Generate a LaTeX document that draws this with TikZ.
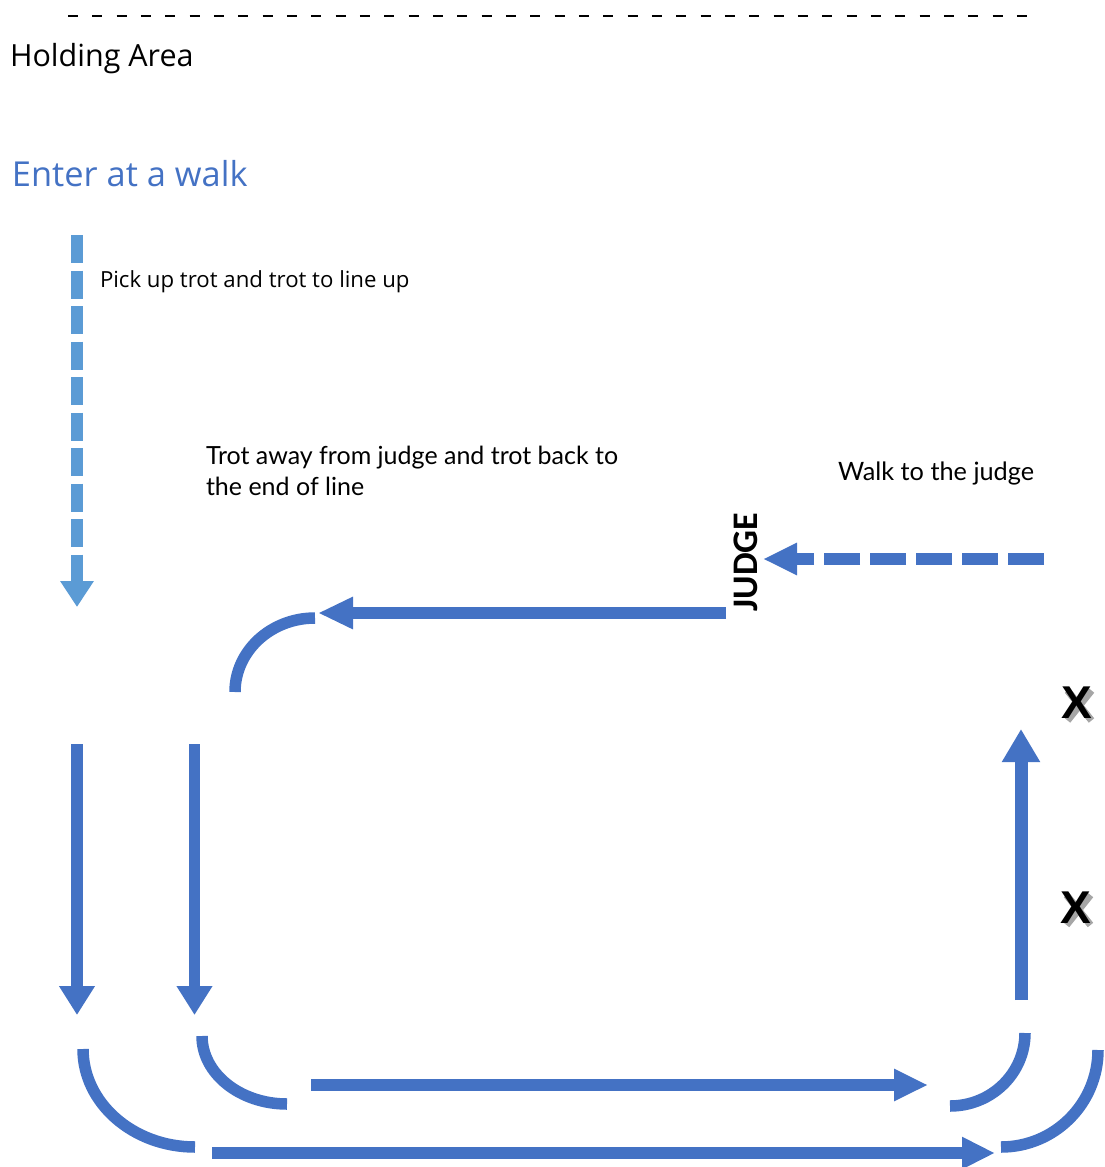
\documentclass[tikz,border=0pt]{standalone}
\usepackage{fontspec}
\setmainfont{Carlito}
\newfontfamily\headfont{Open Sans}
\newfontfamily\latofont{Lato}
\newfontfamily\xfont{Liberation Sans}
\usetikzlibrary{arrows.meta}
\definecolor{mblue}{HTML}{4472C4}
\definecolor{lblue}{HTML}{5B9BD5}
\begin{document}
\begin{tikzpicture}[x=1pt,y=-1pt,
  txt/.style={anchor=base west,inner sep=0pt,outer sep=0pt},
  flow/.style={draw=mblue,line width=11.5pt},
  xmark/.style={inner sep=0pt,font=\xfont\bfseries\fontsize{46}{46}\selectfont},
  xshadow/.style={draw=black!35,line width=7pt},
  ]
\useasboundingbox (0,0) rectangle (1104,1167);
% top dashed boundary
\coordinate (topL) at (68,16);
\coordinate (topR) at (1027,16);
\draw[black,line width=2.2pt,dash pattern=on 10pt off 14.33pt] (topL) -- (topR);
% texts
\node[txt,font=\headfont\fontsize{30.5}{34}\selectfont] (hold) at (10,66) {Holding Area};
\node[txt,font=\headfont\fontsize{34.4}{38}\selectfont,text=mblue] (enter) at (12,186) {Enter at a walk};
\node[txt,font=\headfont\fontsize{22.2}{26}\selectfont] (pick) at (100,287) {Pick up trot and trot to line up};
\node[txt,font=\latofont\fontsize{25}{29}\selectfont] (trot1) at (206,464) {Trot away from judge and trot back to};
\node[txt,font=\latofont\fontsize{25}{29}\selectfont] (trot2) at (206,495.5) {the end of line};
\node[txt,font=\latofont\fontsize{25.3}{29}\selectfont] (walk) at (838,480) {Walk to the judge};
\node[inner sep=0pt,rotate=90,font=\bfseries\fontsize{36}{36}\selectfont] (judge) at (746,562) {JUDGE};
% X marks with drop shadow
\begin{scope}[shift={(1079.5,705.5)}]
  \draw[xshadow] (-12,-15) -- (12,15);
  \draw[xshadow] (12,-15) -- (-12,15);
\end{scope}
\node[xmark] (x1) at (1077,703) {X};
\begin{scope}[shift={(1078.5,910)}]
  \draw[xshadow] (-12,-15) -- (12,15);
  \draw[xshadow] (12,-15) -- (-12,15);
\end{scope}
\node[xmark] (x2) at (1076,907.5) {X};
% coordinates
\coordinate (lbS) at (77,235);
\coordinate (lbE) at (77,607);
\coordinate (jS) at (1044,559);
\coordinate (jE) at (763,559);
\coordinate (tbS) at (726,613);
\coordinate (tbE) at (318,613);
\coordinate (v1S) at (77,744);
\coordinate (v1E) at (77,1015);
\coordinate (v2S) at (194.5,744);
\coordinate (v2E) at (194.5,1015);
\coordinate (b1S) at (311,1085);
\coordinate (b1E) at (928,1085);
\coordinate (b2S) at (212,1153);
\coordinate (b2E) at (995,1153);
\coordinate (upS) at (1021,1000);
\coordinate (upE) at (1021,729);
% entry dashed arrow
\draw[draw=lblue,line width=12pt,dash pattern=on 28pt off 7.5pt,
  -{Triangle[length=26pt,width=32pt,fill=lblue]}] (lbS) -- (lbE);
% walk to the judge
\draw[flow,dash pattern=on 36pt off 10pt,-{Triangle[length=34pt,width=30pt]}] (jS) -- (jE);
% trot away arrow
\draw[flow,-{Triangle[length=35pt,width=30pt]}] (tbS) -- (tbE);
% upper-left arc
\coordinate (a1S) at (235,692);
\coordinate (a1E) at (315,618);
\draw[flow] (a1S) .. controls (235,651.1) and (270.8,618) .. (a1E);
% vertical down arrows
\draw[flow,-{Triangle[length=29pt,width=34pt]}] (v1S) -- (v1E);
\draw[flow,-{Triangle[length=29pt,width=34pt]}] (v2S) -- (v2E);
% bottom-left arcs
\coordinate (a2S) at (83,1049);
\coordinate (a2E) at (195,1147);
\draw[flow] (a2S) .. controls (83,1103.1) and (133.1,1147) .. (a2E);
\coordinate (a3S) at (202,1036);
\coordinate (a3E) at (287,1104);
\draw[flow] (a3S) .. controls (202,1073.6) and (240.1,1104) .. (a3E);
% bottom arrows
\draw[flow,-{Triangle[length=34pt,width=30pt]}] (b1S) -- (b1E);
\draw[flow,-{Triangle[length=33pt,width=30pt]}] (b2S) -- (b2E);
% right arcs
\coordinate (a4S) at (1025,1033);
\coordinate (a4E) at (950,1106);
\draw[flow] (a4S) .. controls (1025,1073.3) and (991.4,1106) .. (a4E);
\coordinate (a5S) at (1098,1050);
\coordinate (a5E) at (1001,1147);
\draw[flow] (a5S) .. controls (1098,1103.6) and (1054.6,1147) .. (a5E);
% up arrow
\draw[flow,line width=13pt,-{Triangle[length=33pt,width=36pt]}] (upS) -- (upE);
\end{tikzpicture}
\end{document}
